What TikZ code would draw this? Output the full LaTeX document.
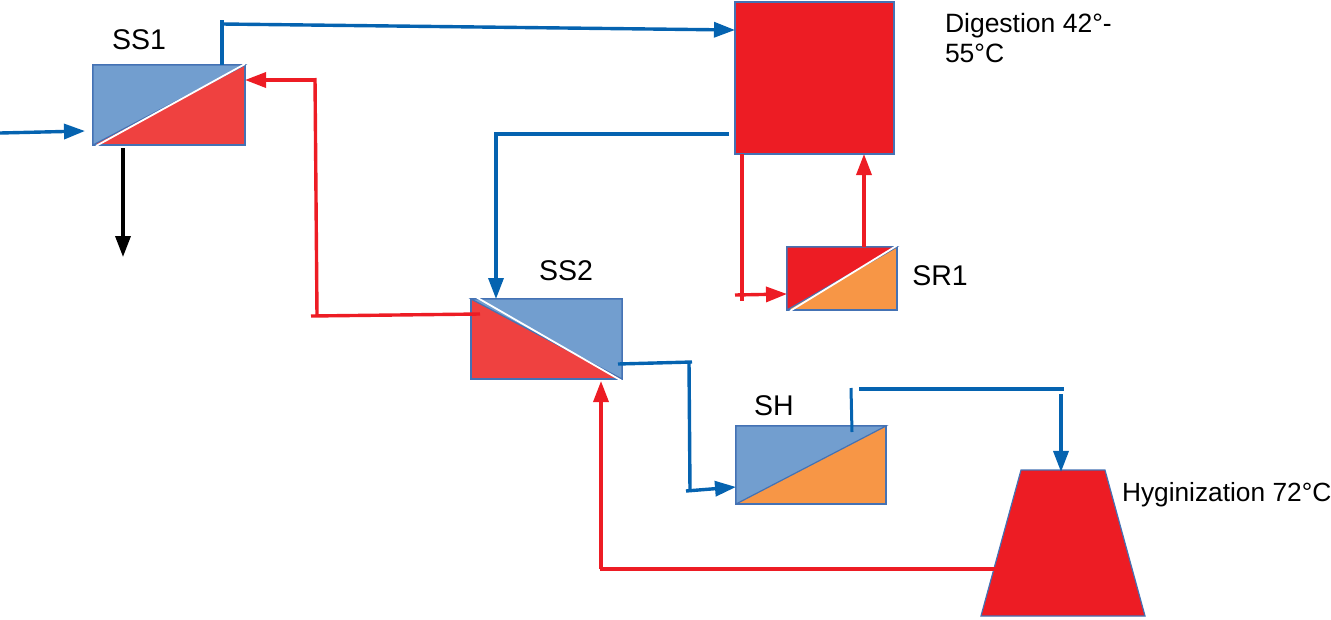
\documentclass[tikz,border=0pt]{standalone}
\usepackage{fontspec}
\setmainfont{Liberation Sans}
\usetikzlibrary{arrows.meta,shapes.geometric}
\definecolor{pipeblue}{HTML}{0563B0}
\definecolor{pipered}{HTML}{ED1C24}
\definecolor{hxblue}{HTML}{729ECF}
\definecolor{hxred}{HTML}{EF4140}
\definecolor{hxorange}{HTML}{F79646}
\definecolor{hxedge}{HTML}{4472B4}
\tikzset{%
  hx/.style      = {shape=rectangle, draw=hxedge, line width=1.2pt,%
                    inner sep=0pt, outer sep=0pt},%
  tank/.style    = {hx, fill=pipered},%
  split/.style   = {draw=hxedge, line width=1.2pt},%
  gap/.style     = {draw=white, line width=1.8pt},%
  label/.style   = {font=\fontsize{28.5}{30}\selectfont, inner sep=0pt, outer sep=0pt},%
  pipe/.style    = {line width=3.4pt},%
  bluepipe/.style = {pipe, draw=pipeblue},%
  redpipe/.style  = {pipe, draw=pipered},%
  flow/.style    = {-{Triangle[length=21pt,width=15pt]}}%
}
\begin{document}
\begin{tikzpicture}[x=1pt,y=-1pt]
	\useasboundingbox (0,0) rectangle (1331,619);
	% vessels
	\node (SSone) [hx,fill=hxred,minimum width=152pt,minimum height=80pt] at (169,105) {};
	\node (SStwo) [hx,fill=hxred,minimum width=151pt,minimum height=80pt] at (546.5,339) {};
	\node (SRone) [hx,fill=hxorange,minimum width=110pt,minimum height=63pt] at (842,278.5) {};
	\node (SHeat) [hx,fill=hxorange,minimum width=150pt,minimum height=78pt] at (811,465) {};
	\node (Digest) [tank,minimum width=159pt,minimum height=152pt] at (814.5,78) {};
	\node (Hygien) [tank,shape=trapezium,trapezium stretches=true,trapezium left angle=64.5,
		trapezium right angle=64.5,inner sep=1pt,minimum width=164pt,minimum height=146pt] at (1063,543) {};
	% upper halves
	\filldraw [split,fill=hxblue] (SSone.south west) -- (SSone.north west) -- (SSone.north east) -- cycle;
	\draw [gap] ([xshift=3pt,yshift=-1pt]SSone.south west) -- ([yshift=1pt]SSone.north east);
	\filldraw [split,fill=hxblue] (SStwo.north west) -- (SStwo.north east) -- (SStwo.south east) -- cycle;
	\draw [gap] ([xshift=5pt,yshift=2pt]SStwo.north west) -- ([yshift=-2pt]SStwo.south east);
	\filldraw [split,fill=pipered] (SRone.south west) -- (SRone.north west) -- (SRone.north east) -- cycle;
	\draw [gap] ([xshift=3pt,yshift=-1pt]SRone.south west) -- ([yshift=1.5pt]SRone.north east);
	\filldraw [split,fill=hxblue] (SHeat.south west) -- (SHeat.north west) -- (SHeat.north east) -- cycle;
	% labels
	\node (SSonelab) [label] at (139,40) {SS1};
	\node (SStwolab) [label] at (566,271) {SS2};
	\node (SRonelab) [label] at (940,276) {SR1};
	\node (SHeatlab) [label] at (774,406) {SH};
	\node (Digestlab) [label,anchor=north west,align=left,font=\fontsize{26.5}{30}\selectfont] at (945,13) {Digestion 42°-\\55°C};
	\node (Hygienlab) [label,anchor=west,font=\fontsize{26.3}{30}\selectfont] at (1122,495) {Hyginization 72°C};
	% joints and free ends
	\coordinate (feed) at (0,133);
	\coordinate (feedend) at (85,131);
	\coordinate (topleft) at (222,20);
	\coordinate (topstart) at (222,24);
	\coordinate (drain) at (123,148);
	\coordinate (drainend) at (123,257);
	\coordinate (backtop) at (315,78);
	\coordinate (backbot) at (317,316);
	\coordinate (backstart) at (311,316);
	\coordinate (midleft) at (496,134);
	\coordinate (dropbot) at (742,301);
	\coordinate (dropstart) at (735,295);
	\coordinate (outcorner) at (692,362);
	\coordinate (outdown) at (689,362);
	\coordinate (outbot) at (690,491);
	\coordinate (outstart) at (686,491);
	\coordinate (shup) at (851,388);
	\coordinate (shtop) at (859,389);
	\coordinate (shright) at (1064,389);
	\coordinate (shdown) at (1061,394);
	\coordinate (hotleft) at (601,569);
	% blue pipes
	\draw [bluepipe,flow] (feed) -- (feedend);
	\draw [bluepipe] (topleft |- SSone.north) -- (topleft);
	\draw [bluepipe,flow] (topstart) -- (Digest.west |- 0,30);
	\draw [bluepipe] ([xshift=-6pt]Digest.west |- midleft) -- (494,134);
	\draw [bluepipe,flow] (midleft) -- (midleft |- SStwo.north);
	\draw [bluepipe] ([xshift=-4pt]SStwo.east |- 0,364) -- (outcorner);
	\draw [bluepipe] (outdown) -- (outbot);
	\draw [bluepipe,flow] (outstart) -- (SHeat.west |- 0,487);
	\draw [bluepipe,line width=3pt] (shup) -- (852,432);
	\draw [bluepipe] (shtop) -- (shright);
	\draw [bluepipe,flow] (shdown) -- ([yshift=-2pt]shdown |- Hygien.north);
	% red pipes
	\draw [redpipe,flow] (backtop |- 0,80) -- (SSone.east |- 0,80);
	\draw [redpipe] (backtop) -- (backbot);
	\draw [redpipe] (backstart) -- (480,314);
	\draw [redpipe] (742,154) -- (dropbot);
	\draw [redpipe,flow] (dropstart) -- (SRone.west |- 0,294);
	\draw [redpipe,flow] (864,247) -- (864,154);
	\draw [redpipe] (Hygien.west |- hotleft) -- (599.5,569);
	\draw [redpipe,flow] (hotleft) -- (601,381);
	% solids out
	\draw [pipe,draw=black,flow] (drain) -- (drainend);
\end{tikzpicture}
\end{document}
